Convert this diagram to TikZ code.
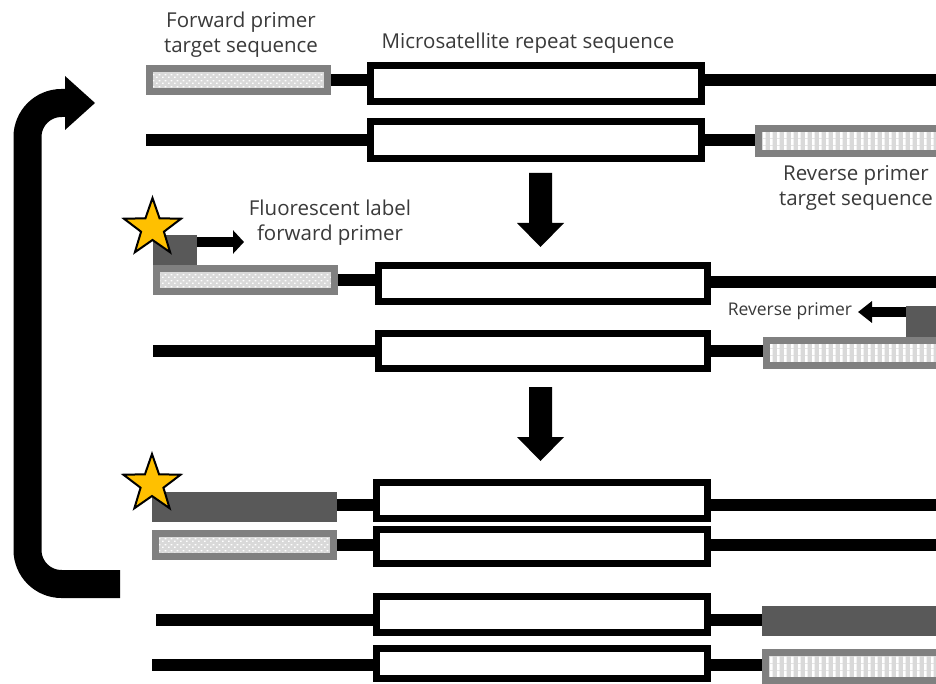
\documentclass[tikz,border=0pt]{standalone}
\usepackage{fontspec}
\setmainfont{Open Sans}
\usetikzlibrary{shapes.geometric,patterns.meta,arrows.meta}
\definecolor{tgray}{HTML}{808080}
\definecolor{lgray}{HTML}{D9D9D9}
\definecolor{dgray}{HTML}{595959}
\definecolor{txt}{HTML}{3A3A3A}
\definecolor{gold}{HTML}{FFC000}
\tikzdeclarepattern{name=wdots, type=uncolored,
  bounding box={(0pt,0pt) and (6pt,5.4pt)}, tile size={(6pt,5.4pt)},
  code={\pgfpathrectangle{\pgfpoint{0pt}{0pt}}{\pgfpoint{2pt}{1.4pt}}%
        \pgfpathrectangle{\pgfpoint{3pt}{2.7pt}}{\pgfpoint{2pt}{1.4pt}}\pgfusepath{fill}}}
\tikzdeclarepattern{name=wstripes, type=uncolored,
  bounding box={(0pt,0pt) and (7pt,7pt)}, tile size={(7pt,7pt)},
  code={\pgfpathrectangle{\pgfpoint{0pt}{0pt}}{\pgfpoint{3pt}{7pt}}\pgfusepath{fill}}}
\tikzset{
  msbox/.style={draw=black, line width=7pt, fill=white, inner sep=0pt, outer sep=3.5pt, minimum width=#1},
  fwdt/.style={draw=tgray, fill=lgray, line width=7pt, inner sep=0pt, outer sep=3.5pt,
    minimum width=178pt, minimum height=23pt,
    path picture={\fill[pattern=wdots, pattern color=white] (path picture bounding box.south west) rectangle (path picture bounding box.north east);}},
  revt/.style={draw=tgray, fill=lgray, line width=7pt, inner sep=0pt, outer sep=3.5pt,
    path picture={\fill[pattern=wstripes, pattern color=white] (path picture bounding box.south west) rectangle (path picture bounding box.north east);}},
  darkb/.style={fill=dgray, inner sep=0pt, outer sep=0pt},
  strand/.style={line width=12pt, black},
  lbl/.style={text=txt, align=center, inner sep=0pt, font=\fontsize{20.5}{25}\selectfont},
  goldstar/.style={star, star points=5, star point ratio=2.5, draw=black, fill=gold, line width=2pt, inner sep=0pt, minimum size=60pt},
  bigarrow/.style={fill=black}
}
\begin{document}
\begin{tikzpicture}[x=1pt,y=-1pt]
\useasboundingbox (0,0) rectangle (936,684);
\fill[white] (0,0) rectangle (936,684);
\clip (0,0) rectangle (936,684);

% labels
\node[lbl] (t1) at (241,35) {Forward primer\\target sequence};
\node[lbl] (t2) at (528,43) {Microsatellite repeat sequence};
\node[lbl] (t3) at (856,188) {Reverse primer\\target sequence};
\node[lbl] (t4) at (330,223) {Fluorescent label\\forward primer};
\node[lbl, font=\fontsize{17.5}{20}\selectfont] (t5) at (790,311) {Reverse primer};

% microsatellite boxes
\node[msbox=331pt, minimum height=36pt] (ms1) at (536,83.5) {};
\node[msbox=331pt, minimum height=37pt] (ms2) at (536,140) {};
\node[msbox=329pt, minimum height=36pt] (ms3) at (543,283.5) {};
\node[msbox=329pt, minimum height=35pt] (ms4) at (543,351) {};
\node[msbox=331pt, minimum height=36pt] (ms5) at (542,500.5) {};
\node[msbox=331pt, minimum height=34pt] (ms6) at (542,546.5) {};
\node[msbox=331pt, minimum height=36pt] (ms7) at (542,614.5) {};
\node[msbox=331pt, minimum height=30pt] (ms8) at (542,663.5) {};

% primer target sequences and primers
\node[fwdt] (f1) at (238.5,80) {};
\node[revt, minimum width=183pt, minimum height=25pt] (r2) at (850,141) {};
\node[fwdt] (f3) at (245.5,280) {};
\node[darkb, minimum width=44pt, minimum height=30pt] (p3) at (175,250) {};
\node[revt, minimum width=175pt, minimum height=25pt] (r4) at (854,353) {};
\node[darkb, minimum width=39pt, minimum height=31pt] (p4) at (925.5,321.5) {};
\node[darkb, minimum width=185pt, minimum height=30pt] (d5) at (244.5,507) {};
\node[fwdt] (f6) at (244.5,545) {};
\node[darkb, minimum width=183pt, minimum height=30pt] (d7) at (853.5,621) {};
\node[revt, minimum width=176pt, minimum height=28pt] (r8) at (853.5,666.5) {};

% free strand ends
\coordinate (e1) at (945,80);
\coordinate (l2) at (146,140);
\coordinate (e3) at (945,282);
\coordinate (l4) at (153,351);
\coordinate (e5) at (945,505);
\coordinate (e6) at (945,545);
\coordinate (l7) at (156,620);
\coordinate (l8) at (152,665);

% strands
\draw[strand] (f1.east) -- (f1.east -| ms1.west);
\draw[strand] (ms1.east |- e1) -- (e1);
\draw[strand] (l2) -- (l2 -| ms2.west);
\draw[strand] (ms2.east) -- (ms2.east -| r2.west);
\draw[strand] (f3.east) -- (f3.east -| ms3.west);
\draw[strand] (ms3.east |- e3) -- (e3);
\draw[strand] (l4) -- (l4 -| ms4.west);
\draw[strand] (ms4.east) -- (ms4.east -| r4.west);
\draw[strand] (d5.east |- e5) -- (e5 -| ms5.west);
\draw[strand] (ms5.east |- e5) -- (e5);
\draw[strand] (f6.east) -- (f6.east -| ms6.west);
\draw[strand] (ms6.east |- e6) -- (e6);
\draw[strand] (l7) -- (l7 -| ms7.west);
\draw[strand] (ms7.east |- l7) -- (l7 -| d7.west);
\draw[strand] (l8) -- (l8 -| ms8.west);
\draw[strand] (ms8.east |- l8) -- (l8 -| r8.west);

% primer direction arrows
\coordinate (a3) at (244,242);
\coordinate (a4) at (858,312);
\draw[line width=10pt, -{Triangle[width=23pt,length=11pt]}] (p3.east |- a3) -- (a3);
\draw[line width=10pt, -{Triangle[width=21pt,length=14pt]}] (p4.west |- a4) -- (a4);

% stars
\node[goldstar] (s1) at (152.5,228) {};
\node[goldstar] (s2) at (152,484) {};

% step arrows
\fill[bigarrow] (529,173) -- (552,173) -- (552,223) -- (564,223) -- (540.5,247) -- (517,223) -- (529,223) -- cycle;
\fill[bigarrow] (529,387) -- (552,387) -- (552,437) -- (564,437) -- (540.5,461) -- (517,437) -- (529,437) -- cycle;

% cycle arrow
\coordinate (c0) at (120,584);
\coordinate (c1) at (27.5,584);
\coordinate (c2) at (27.5,103);
\coordinate (c3) at (66,103);
\draw[line width=28pt, rounded corners=34pt] (c0) -- (c1) -- (c2) -- (c3);
\fill[bigarrow] (65,76) -- (95,103) -- (65,130) -- cycle;
\end{tikzpicture}
\end{document}
